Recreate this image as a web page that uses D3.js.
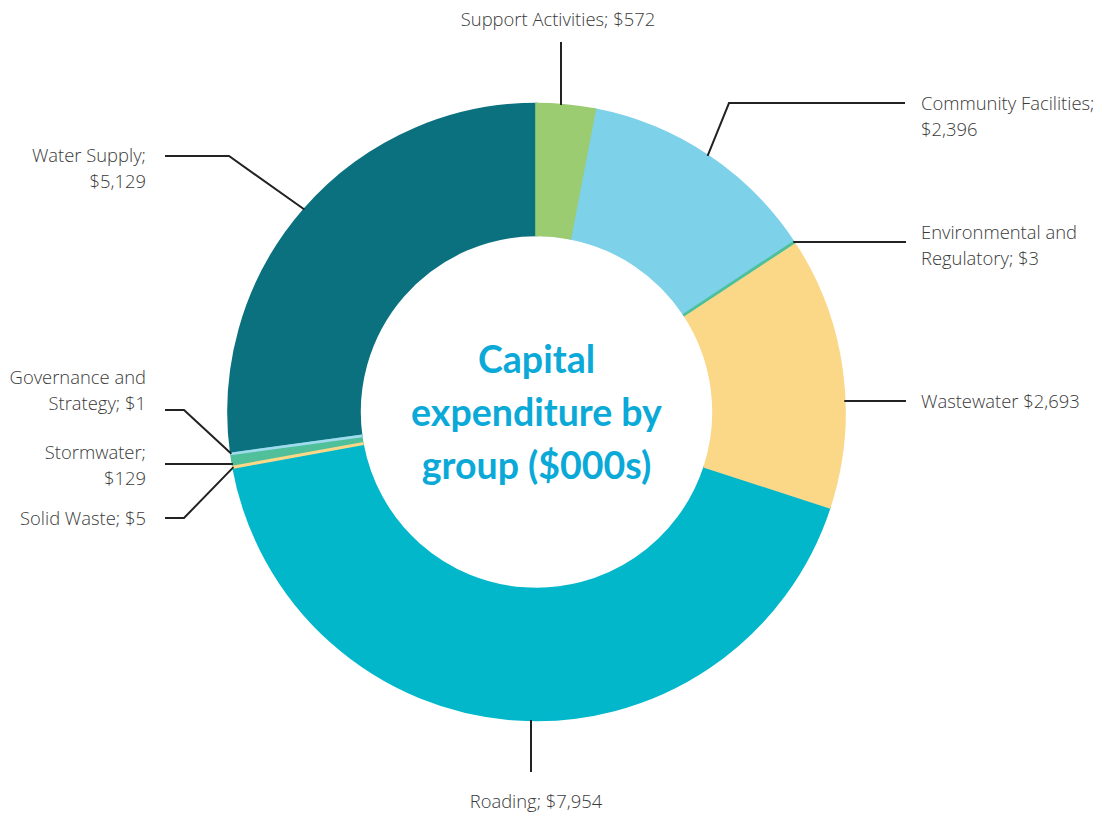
<!DOCTYPE html>
<html>
<head>
<meta charset="utf-8">
<script src="https://cdn.jsdelivr.net/npm/d3@7"></script>
<style>
  html, body { margin: 0; padding: 0; background: #ffffff; }
  svg { display: block; }
</style>
</head>
<body>
<svg id="chart" width="1105" height="816"></svg>
<script>
// Capital expenditure by group, $000s (clockwise from 12 o'clock)
const groups = [
  "Support Activities", "Community Facilities", "Environmental and Regulatory",
  "Wastewater", "Roading", "Solid Waste", "Stormwater",
  "Governance and Strategy", "Water Supply"
];
const spend = [572, 2396, 3, 2693, 7954, 5, 129, 1, 5129];
const colours = [
  "#9bcc72", "#7dd1e8", "#4fc19a", "#fbd788", "#03b7cb",
  "#fbd788", "#4fc09a", "#9fdbef", "#0b717f"
];
const labelLines = [
  ["Support Activities; $572"],
  ["Community Facilities;", "$2,396"],
  ["Environmental and", "Regulatory; $3"],
  ["Wastewater $2,693"],
  ["Roading; $7,954"],
  ["Solid Waste; $5"],
  ["Stormwater;", "$129"],
  ["Governance and", "Strategy; $1"],
  ["Water Supply;", "$5,129"]
];
const titleLines = ["Capital", "expenditure by", "group ($000s)"];

// Label placement: leader style, leader geometry and text anchor
const labelLayout = [
  { kind: "v",     x: 561, end: 42,  tx: 558, ty: 18,  anchor: "middle" },
  { kind: "elbow", ex: 729, ey: 103, end: 905, tx: 921, ty: 102, anchor: "start" },
  { kind: "h",     y: 242, end: 906, tx: 921, ty: 231, anchor: "start" },
  { kind: "h",     y: 401, end: 906, tx: 921, ty: 400, anchor: "start" },
  { kind: "v",     x: 531, end: 772, tx: 536, ty: 800, anchor: "middle" },
  { kind: "elbow", ex: 184, ey: 518, end: 165, tx: 146, ty: 517, anchor: "end" },
  { kind: "h",     y: 464, end: 165, tx: 146, ty: 451, anchor: "end" },
  { kind: "elbow", ex: 184, ey: 410, end: 165, tx: 146, ty: 376, anchor: "end" },
  { kind: "elbow", ex: 229, ey: 156, end: 165, tx: 146, ty: 154, anchor: "end" }
];

const cx = 536.5, cy = 412, outerR = 308, innerR = 177;
const lineGap = 26;
const textFont = "'Open Sans', 'Noto Sans', sans-serif";

const data = groups.map((g, i) => ({ group: g, value: spend[i], colour: colours[i], lines: labelLines[i], layout: labelLayout[i] }));

const svg = d3.select("#chart");
const g = svg.append("g").attr("transform", `translate(${cx},${cy})`);

const pie = d3.pie().value(d => d.value).sort(null);
const arc = d3.arc().innerRadius(innerR).outerRadius(outerR);
const arcs = pie(data);

// Draw larger slices first so that the thin ones stay visible on top
const drawOrder = arcs.slice().sort((a, b) => b.data.value - a.data.value);
g.selectAll("path.slice")
  .data(drawOrder)
  .join("path")
  .attr("class", "slice")
  .attr("d", arc)
  .attr("fill", d => d.data.colour)
  .attr("stroke", d => d.data.colour)
  .attr("stroke-width", 2.6)
  .attr("stroke-linejoin", "miter");

// Leader lines (in page coordinates)
function leaderPoints(a) {
  const L = a.data.layout;
  if (L.kind === "v") {
    const dx = L.x - cx;
    const dy = Math.sqrt(outerR * outerR - dx * dx);
    const y0 = L.end < cy ? cy - dy : cy + dy;
    return [[L.x, y0], [L.x, L.end]];
  }
  if (L.kind === "h") {
    const dy = L.y - cy;
    const dx = Math.sqrt(outerR * outerR - dy * dy);
    const x0 = L.end > cx ? cx + dx : cx - dx;
    return [[x0, L.y], [L.end, L.y]];
  }
  const mid = (a.startAngle + a.endAngle) / 2;
  const x0 = cx + outerR * Math.sin(mid);
  const y0 = cy - outerR * Math.cos(mid);
  return [[x0, y0], [L.ex, L.ey], [L.end, L.ey]];
}

const leaders = svg.append("g");
leaders.selectAll("path")
  .data(arcs)
  .join("path")
  .attr("d", d => d3.line()(leaderPoints(d)))
  .attr("fill", "none")
  .attr("stroke", "#222222")
  .attr("stroke-width", 2);

// Category labels
const labels = svg.append("g")
  .attr("font-family", textFont)
  .attr("font-size", 18.4)
  .attr("font-weight", 300)
  .attr("fill", "#3a3a3a");
labels.selectAll("text")
  .data(arcs)
  .join("text")
  .attr("text-anchor", d => d.data.layout.anchor)
  .attr("dominant-baseline", "central")
  .each(function (d) {
    const t = d3.select(this);
    d.data.lines.forEach((ln, i) => {
      t.append("tspan")
        .attr("x", d.data.layout.tx)
        .attr("y", d.data.layout.ty + i * lineGap)
        .text(ln);
    });
  });

// Centre title
const title = svg.append("text")
  .attr("text-anchor", "middle")
  .attr("font-family", "Lato, 'Open Sans', sans-serif")
  .attr("font-weight", 700)
  .attr("font-size", 37.5)
  .attr("fill", "#0aa9d8");
titleLines.forEach((ln, i) => {
  title.append("tspan")
    .attr("x", cx)
    .attr("y", 373 + i * 53)
    .text(ln);
});
</script>
</body>
</html>
